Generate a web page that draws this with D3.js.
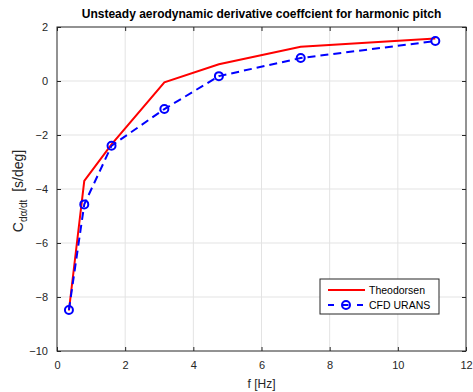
<!DOCTYPE html>
<html>
<head>
<meta charset="utf-8">
<script src="https://cdn.jsdelivr.net/npm/d3@7"></script>
<style>
  body { margin: 0; background: #fff; }
  svg { font-family: "Liberation Sans", Arial, sans-serif; }
</style>
</head>
<body>
<div id="chart"></div>
<script>
const freqs = [0.35, 0.8, 1.6, 3.15, 4.75, 7.15, 11.1];
const theodorsen = [-8.5, -3.7, -2.35, -0.05, 0.62, 1.27, 1.57];
const cfdUrans = [-8.48, -4.57, -2.4, -1.04, 0.18, 0.85, 1.48];
const xTicks = [0, 2, 4, 6, 8, 10, 12];
const yTicks = [-10, -8, -6, -4, -2, 0, 2];

const width = 473, height = 392;
const margin = { top: 27, right: 7, bottom: 41, left: 57 };
const w = width - margin.left - margin.right;
const h = height - margin.top - margin.bottom;
const axisColor = '#262626';

const svg = d3.select('#chart').append('svg').attr('width', width).attr('height', height);
const g = svg.append('g').attr('transform', `translate(${margin.left},${margin.top})`);

const x = d3.scaleLinear().domain([0, 12]).range([0, w]);
const y = d3.scaleLinear().domain([-10, 2]).range([h, 0]);

// grid
g.append('g').selectAll('line').data(xTicks.slice(1, -1)).enter().append('line')
  .attr('x1', d => x(d)).attr('x2', d => x(d)).attr('y1', 0).attr('y2', h)
  .attr('stroke', '#e3e3e3');
g.append('g').selectAll('line').data(yTicks.slice(1, -1)).enter().append('line')
  .attr('y1', d => y(d)).attr('y2', d => y(d)).attr('x1', 0).attr('x2', w)
  .attr('stroke', '#e3e3e3');

// axes (ticks inward, boxed)
const styleAxis = sel => {
  sel.select('.domain').remove();
  sel.selectAll('line').attr('stroke', axisColor);
  sel.selectAll('text').attr('fill', axisColor).attr('font-size', 11);
};
g.append('g').attr('transform', `translate(0,${h})`)
  .call(d3.axisBottom(x).tickValues(xTicks).tickSizeInner(-4).tickSizeOuter(0).tickPadding(10))
  .call(styleAxis);
g.append('g')
  .call(d3.axisTop(x).tickValues(xTicks).tickSizeInner(-4).tickSizeOuter(0).tickFormat(''))
  .call(styleAxis);
g.append('g')
  .call(d3.axisLeft(y).tickValues(yTicks).tickSizeInner(-4).tickSizeOuter(0).tickPadding(9))
  .call(styleAxis);
g.append('g').attr('transform', `translate(${w},0)`)
  .call(d3.axisRight(y).tickValues(yTicks).tickSizeInner(-4).tickSizeOuter(0).tickFormat(''))
  .call(styleAxis);
g.append('rect').attr('width', w).attr('height', h)
  .attr('fill', 'none').attr('stroke', axisColor).attr('stroke-width', 1);

// series
const line = d3.line().x(d => x(d[0])).y(d => y(d[1]));
const theoData = freqs.map((f, i) => [f, theodorsen[i]]);
const cfdData = freqs.map((f, i) => [f, cfdUrans[i]]);

g.append('path').datum(theoData).attr('d', line)
  .attr('fill', 'none').attr('stroke', '#ff0000').attr('stroke-width', 2);
g.append('path').datum(cfdData).attr('d', line)
  .attr('fill', 'none').attr('stroke', '#0000ff').attr('stroke-width', 2)
  .attr('stroke-dasharray', '8,5');
g.selectAll('circle.m').data(cfdData).enter().append('circle').attr('class', 'm')
  .attr('cx', d => x(d[0])).attr('cy', d => y(d[1])).attr('r', 4)
  .attr('fill', 'none').attr('stroke', '#0000ff').attr('stroke-width', 2);

// title and labels
svg.append('text').attr('x', margin.left + w / 2).attr('y', 18)
  .attr('text-anchor', 'middle').attr('font-weight', 'bold').attr('font-size', 12)
  .attr('fill', '#000').text('Unsteady aerodynamic derivative coeffcient for harmonic pitch');
svg.append('text').attr('x', margin.left + w / 2).attr('y', 388)
  .attr('text-anchor', 'middle').attr('font-size', 12).attr('fill', axisColor).text('f [Hz]');
const yl = svg.append('text').attr('transform', `translate(23,${margin.top + h / 2 + 2}) rotate(-90)`)
  .attr('text-anchor', 'middle').attr('font-size', 14).attr('fill', axisColor);
yl.append('tspan').text('C');
yl.append('tspan').attr('font-size', 10).attr('dy', 4).text('dα/dt');
yl.append('tspan').attr('dy', -4).text('\u00a0 [s/deg]');

// legend
const lg = svg.append('g').attr('transform', 'translate(320,279)');
lg.append('rect').attr('width', 119).attr('height', 35)
  .attr('fill', '#fff').attr('stroke', axisColor).attr('stroke-width', 1);
lg.append('line').attr('x1', 8).attr('x2', 45).attr('y1', 11).attr('y2', 11)
  .attr('stroke', '#ff0000').attr('stroke-width', 2);
lg.append('text').attr('x', 49).attr('y', 15).attr('font-size', 10.5).attr('fill', '#000').text('Theodorsen');
lg.append('line').attr('x1', 8).attr('x2', 45).attr('y1', 26).attr('y2', 26)
  .attr('stroke', '#0000ff').attr('stroke-width', 2).attr('stroke-dasharray', '6,8.5');
lg.append('circle').attr('cx', 26).attr('cy', 26).attr('r', 4)
  .attr('fill', 'none').attr('stroke', '#0000ff').attr('stroke-width', 2);
lg.append('text').attr('x', 49).attr('y', 30).attr('font-size', 10.5).attr('fill', '#000').text('CFD URANS');
</script>
</body>
</html>
